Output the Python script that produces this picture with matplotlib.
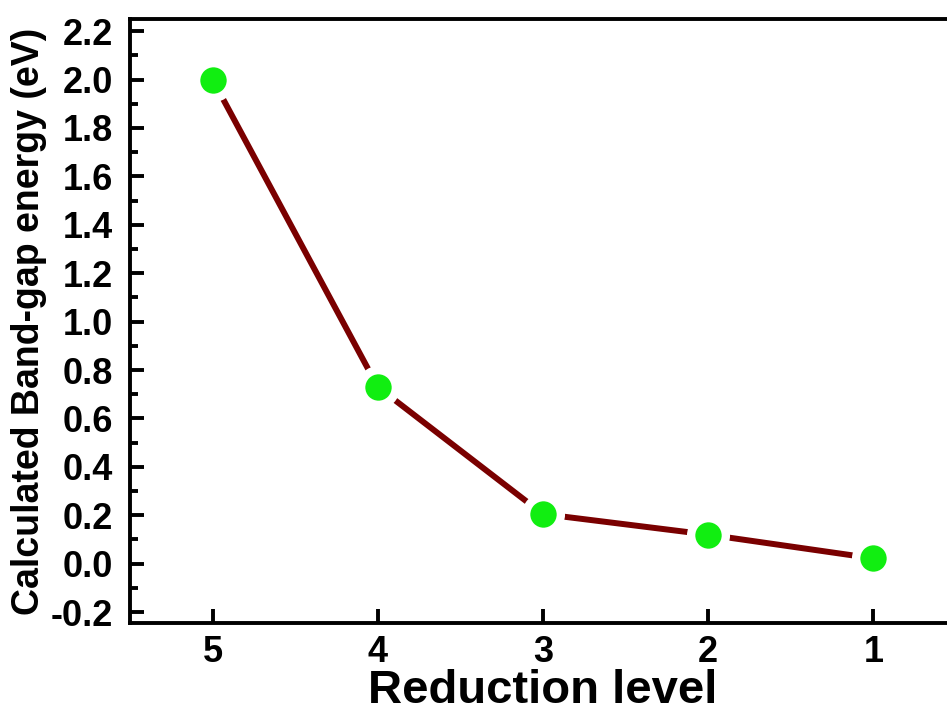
import matplotlib.pyplot as plt
import numpy as np
from matplotlib.ticker import MultipleLocator

plt.rcParams["font.family"] = ["Liberation Sans", "DejaVu Sans"]
plt.rcParams["font.weight"] = "bold"

# reduction level vs band-gap
levels = [5, 4, 3, 2, 1]
band_gap = [2.0, 0.73, 0.205, 0.12, 0.022]
y_ticks = [-0.2, 0.0, 0.2, 0.4, 0.6, 0.8, 1.0, 1.2, 1.4, 1.6, 1.8, 2.0, 2.2]

fig = plt.figure(figsize=(9.47, 7.15), dpi=100)
# axes runs a bit past the right edge, like the original
ax = fig.add_axes([130/947, 1 - 623/715, (956 - 130)/947, (623 - 19)/715])

ax.plot(levels, band_gap, "-", color="#7a0000", lw=4.3, zorder=2)
ax.plot(levels, band_gap, "o", color="#11ee11", ms=25, mec="white", mew=6, zorder=3)

ax.set_xlim(5.5, 0.5)
ax.set_ylim(-0.245, 2.25)
ax.set_xticks(levels)
ax.set_yticks(y_ticks)
ax.set_yticklabels([f"{v:.1f}" for v in y_ticks])
ax.yaxis.set_minor_locator(MultipleLocator(0.1))

for s in ax.spines.values():
    s.set_linewidth(2.8)
ax.tick_params(which="major", direction="in", length=10, width=2.8, labelsize=26, pad=12)
ax.tick_params(which="minor", direction="in", length=6, width=2.8)
ax.tick_params(axis="x", which="both", top=False)
ax.tick_params(axis="y", which="both", right=False)
ax.tick_params(axis="x", pad=9)

ax.set_xlabel("Reduction level", fontsize=34, fontweight="bold", labelpad=-1)
ax.set_ylabel("Calculated Band-gap energy (eV)", fontsize=27, fontweight="bold", labelpad=3)

fig.savefig("out.png", dpi=100)
